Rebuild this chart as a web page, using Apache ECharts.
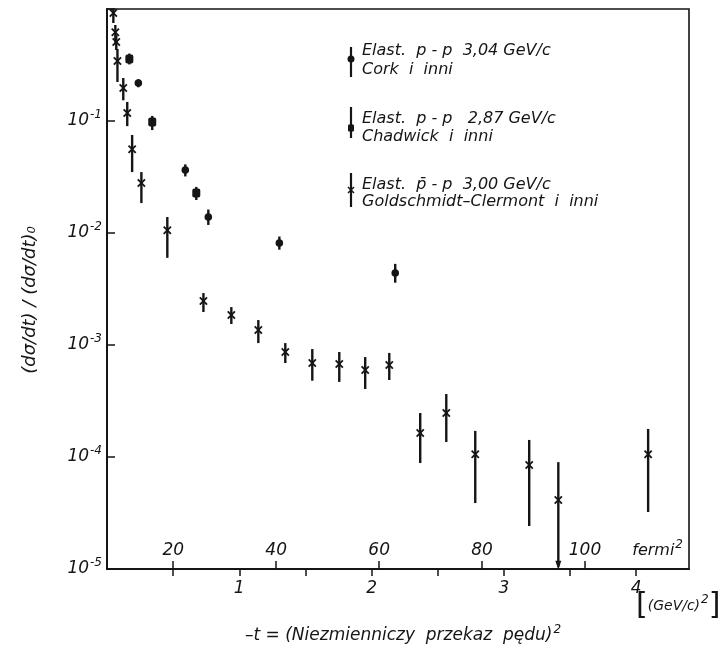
<!DOCTYPE html>
<html>
<head>
<meta charset="utf-8">
<script src="https://cdn.jsdelivr.net/npm/echarts@6/dist/echarts.min.js"></script>
<style>
  html, body { margin: 0; padding: 0; background: #fff; }
  #main { width: 728px; height: 654px; }
</style>
</head>
<body>
<div id="main"></div>
<script>
// Elast. p-p 3,04 GeV/c  (Cork i inni)
const corkX  = [0.237, 0.592, 0.766, 1.303, 2.179];
const corkY  = [0.218, 0.0365, 0.0139, 0.00814, 0.0044];
const corkLo = [0.200, 0.032, 0.0118, 0.0071, 0.0036];
const corkHi = [0.236, 0.041, 0.0162, 0.0093, 0.0053];

// Elast. p-p 2,87 GeV/c  (Chadwick i inni)
const chadX  = [0.169, 0.342, 0.675];
const chadY  = [0.358, 0.098, 0.0228];
const chadLo = [0.320, 0.083, 0.0197];
const chadHi = [0.400, 0.111, 0.0258];

// Elast. pbar-p 3,00 GeV/c  (Goldschmidt-Clermont i inni)
const antiX  = [0.048, 0.063, 0.070, 0.079, 0.123, 0.153, 0.190, 0.260, 0.456, 0.729, 0.940, 1.144,
                1.348, 1.552, 1.756, 1.952, 2.134, 2.368, 2.565, 2.784, 3.192, 3.412, 4.091];
const antiY  = [0.92, 0.62, 0.507, 0.343, 0.197, 0.118, 0.056, 0.028, 0.0106, 0.00247, 0.00185, 0.00136,
                0.000866, 0.00069, 0.000676, 0.000598, 0.000663, 0.000164, 0.000247, 0.000106, 0.0000849, 0.0000413, 0.000106];
const antiLo = [0.75, 0.50, 0.43, 0.223, 0.153, 0.090, 0.035, 0.0185, 0.0060, 0.00197, 0.00154, 0.00104,
                0.00069, 0.00048, 0.000468, 0.000405, 0.000487, 0.0000883, 0.000136, 0.0000388, 0.0000242, 0.0000105, 0.0000323];
const antiHi = [1.0, 0.72, 0.585, 0.44, 0.242, 0.148, 0.075, 0.035, 0.0139, 0.00291, 0.00218, 0.00167,
                0.00104, 0.00092, 0.000866, 0.00078, 0.00085, 0.000247, 0.000365, 0.000171, 0.000142, 0.000090, 0.000178];
const antiArrow = [21]; // punkt z granica (strzalka w dol)

const gevTicks = [0.5, 1, 1.5, 2, 2.5, 3, 3.5, 4];
const gevLabels = [1, 2, 3, 4];
const fermiTicks = [20, 40, 60, 80, 100];

const FONT = "'DejaVu Sans', 'Liberation Sans', sans-serif";
const INK = '#151515';

const toRows = (xs, ys, lo, hi) => xs.map((x, i) => [x, ys[i], lo[i], hi[i], antiArrow.includes(i) ? 1 : 0]);

function errBar(kind) {
  return function (params, api) {
    const x = api.value(0);
    const p = api.coord([x, api.value(1)]);
    const top = api.coord([x, api.value(3)]);
    const bot = api.coord([x, api.value(2)]);
    const kids = [{
      type: 'line',
      shape: { x1: top[0], y1: top[1], x2: bot[0], y2: bot[1] },
      style: { stroke: INK, lineWidth: 2.4 }
    }];
    if (kind === 'dot') {
      kids.push({ type: 'circle', shape: { cx: p[0], cy: p[1], r: 3.8 }, style: { fill: INK } });
    } else if (kind === 'sq') {
      kids.push({ type: 'rect', shape: { x: p[0] - 4, y: p[1] - 4.5, width: 8, height: 9, r: 2 }, style: { fill: INK } });
    } else {
      const s = 3.6;
      kids.push({ type: 'line', shape: { x1: p[0] - s, y1: p[1] - s, x2: p[0] + s, y2: p[1] + s }, style: { stroke: INK, lineWidth: 1.8 } });
      kids.push({ type: 'line', shape: { x1: p[0] - s, y1: p[1] + s, x2: p[0] + s, y2: p[1] - s }, style: { stroke: INK, lineWidth: 1.8 } });
      if (api.value(4) === 1) {
        kids.push({ type: 'polygon', shape: { points: [[bot[0] - 3, bot[1] - 6], [bot[0] + 3, bot[1] - 6], [bot[0], bot[1] + 3]] }, style: { fill: INK } });
      }
    }
    return { type: 'group', children: kids };
  };
}

const chart = echarts.init(document.getElementById('main'));

// legenda - rysowana recznie jak w oryginale
const legend = [];
function legendEntry(y1, y2, ym, kind, l1, l2, t1, t2) {
  legend.push({ type: 'line', shape: { x1: 351, y1: y1, x2: 351, y2: y2 }, style: { stroke: INK, lineWidth: 2.2 } });
  if (kind === 'dot') legend.push({ type: 'circle', shape: { cx: 351, cy: ym, r: 3.5 }, style: { fill: INK } });
  if (kind === 'sq') legend.push({ type: 'rect', shape: { x: 348, y: ym - 3.5, width: 6, height: 7, r: 1 }, style: { fill: INK } });
  if (kind === 'x') {
    legend.push({ type: 'line', shape: { x1: 348, y1: ym - 3, x2: 354, y2: ym + 3 }, style: { stroke: INK, lineWidth: 1.5 } });
    legend.push({ type: 'line', shape: { x1: 348, y1: ym + 3, x2: 354, y2: ym - 3 }, style: { stroke: INK, lineWidth: 1.5 } });
  }
  const txt = (s, y) => ({ type: 'text', x: 362, y: y, style: { text: s, fill: INK, font: 'italic 16px ' + FONT, textVerticalAlign: 'middle' } });
  legend.push(txt(l1, t1), txt(l2, t2));
}
legendEntry(47, 77, 59, 'dot', 'Elast.  p - p  3,04 GeV/c', 'Cork  i  inni', 51, 70);
legendEntry(107, 138, 128, 'sq', 'Elast.  p - p   2,87 GeV/c', 'Chadwick  i  inni', 119, 137);
legendEntry(173, 207, 190, 'x', 'Elast.  p\u0304 - p  3,00 GeV/c', 'Goldschmidt\u2013Clermont  i  inni', 185, 202);

const sup = { fontFamily: FONT, fontStyle: 'italic', fontSize: 12, padding: [0, 0, 12, 1] };

const option = {
  backgroundColor: '#fff',
  animation: false,
  grid: { left: 107, right: 39, top: 9, bottom: 85, show: true, borderColor: INK, borderWidth: 1.6 },
  xAxis: [
    {
      type: 'value', min: 0, max: 4.4,
      axisLine: { show: true, onZero: false, lineStyle: { color: INK, width: 2 } },
      axisTick: { show: true, inside: false, length: 7, customValues: gevTicks, lineStyle: { color: INK, width: 1.5 } },
      axisLabel: { customValues: gevLabels, margin: 11, color: INK, fontFamily: FONT, fontStyle: 'italic', fontSize: 17 },
      splitLine: { show: false }
    },
    {
      type: 'value', min: 7.13, max: 120.2, position: 'bottom',
      axisLine: { show: false },
      axisTick: { show: true, inside: true, length: 8, customValues: fermiTicks, lineStyle: { color: INK, width: 1.5 } },
      axisLabel: { inside: true, customValues: fermiTicks, margin: 10, color: INK, fontFamily: FONT, fontStyle: 'italic', fontSize: 17 },
      splitLine: { show: false }
    }
  ],
  yAxis: {
    type: 'log', logBase: 10, min: 1e-5, max: 1,
    axisLine: { show: true, onZero: false, lineStyle: { color: INK, width: 2 } },
    axisTick: { show: true, inside: true, length: 8, lineStyle: { color: INK, width: 1.5 } },
    minorTick: { show: false },
    splitLine: { show: false },
    axisLabel: {
      margin: 5,
      formatter: function (v) {
        const e = Math.round(Math.log10(v));
        if (e >= 0) return '';
        return '{b|10}{s|' + e + '}';
      },
      rich: {
        b: { fontFamily: FONT, fontStyle: 'italic', fontSize: 17, color: INK },
        s: Object.assign({ color: INK }, sup)
      }
    }
  },
  graphic: legend.concat([
    {
      type: 'text', x: 30, y: 300, rotation: Math.PI / 2,
      style: { text: '(d\u03C3/dt) / (d\u03C3/dt)\u2080', fill: INK, font: 'italic 18px ' + FONT, textAlign: 'center', textVerticalAlign: 'middle' }
    },
    {
      type: 'text', x: 683, y: 551,
      style: {
        text: '{t|fermi}{s|2}', textAlign: 'right', textVerticalAlign: 'middle',
        rich: {
          t: { fontFamily: FONT, fontStyle: 'italic', fontSize: 16, fill: INK },
          s: Object.assign({ fill: INK }, sup)
        }
      }
    },
    {
      type: 'text', x: 636, y: 606,
      style: {
        text: '{br|[}{t|(GeV/c)}{s|2}{br|]}', textAlign: 'left', textVerticalAlign: 'middle',
        rich: {
          br: { fontFamily: FONT, fontSize: 30, fill: INK },
          t: { fontFamily: FONT, fontStyle: 'italic', fontSize: 14, fill: INK },
          s: Object.assign({ fill: INK }, sup)
        }
      }
    },
    {
      type: 'text', x: 403, y: 636,
      style: {
        text: '{t|\u2013t = (Niezmienniczy  przekaz  p\u0119du)}{s|2}', textAlign: 'center', textVerticalAlign: 'middle',
        rich: {
          t: { fontFamily: FONT, fontStyle: 'italic', fontSize: 17, fill: INK },
          s: Object.assign({ fill: INK }, sup)
        }
      }
    }
  ]),
  series: [
    { name: 'Cork', type: 'custom', xAxisIndex: 0, renderItem: errBar('dot'), encode: { x: 0, y: 1 },
      data: toRows(corkX, corkY, corkLo, corkHi).map(r => r.slice(0, 4)) },
    { name: 'Chadwick', type: 'custom', xAxisIndex: 0, renderItem: errBar('sq'), encode: { x: 0, y: 1 },
      data: toRows(chadX, chadY, chadLo, chadHi).map(r => r.slice(0, 4)) },
    { name: 'Goldschmidt-Clermont', type: 'custom', xAxisIndex: 0, renderItem: errBar('x'), encode: { x: 0, y: 1 },
      data: toRows(antiX, antiY, antiLo, antiHi) }
  ]
};

chart.setOption(option);
</script>
</body>
</html>
